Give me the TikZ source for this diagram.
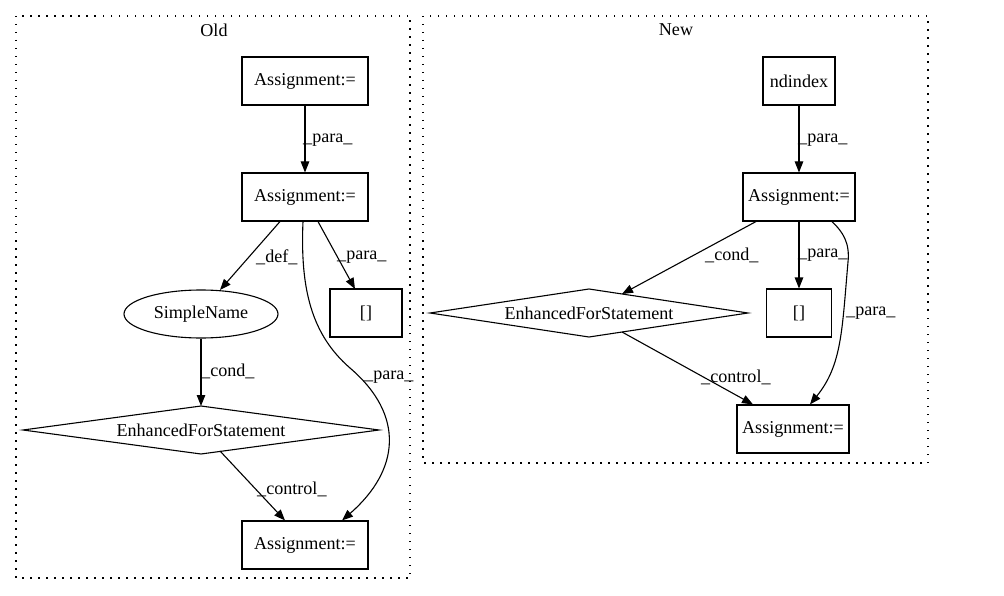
\documentclass[tikz,border=0pt]{standalone}
\usepackage{fontspec}
\setmainfont{Liberation Serif}
\usetikzlibrary{arrows.meta,shapes.geometric}
\begin{document}
\begin{tikzpicture}[x=1pt,y=-1pt,
  every node/.style={font=\fontsize{18.1}{20}\selectfont, inner sep=0pt},
  box/.style={draw, line width=1.1pt, minimum height=48pt},
  oval/.style={draw, ellipse, line width=1.1pt, minimum width=154pt, minimum height=48pt},
  shp/.style={line width=1.1pt},
  cluster/.style={line width=1.5pt, dash pattern=on 1.5pt off 6.5pt},
  edge/.style={line width=1.1pt, -{Triangle[length=11pt,width=8.5pt]}},
  lbl/.style={anchor=west}]
\useasboundingbox (0,0) rectangle (1004,596);
% clusters
\draw[cluster] (16,16) rectangle (410,578);
\node (oldt) at (214,30) {Old};
\draw[cluster] (423,16) rectangle (928,463);
\node (newt) at (676,30) {New};
% Old nodes
\node[box, minimum width=126pt] (a1) at (305,81) {Assignment:=};
\node[box, minimum width=126pt] (a2) at (305,197) {Assignment:=};
\node[oval] (sn) at (201,314) {SimpleName};
\node[box, minimum width=72pt] (b1) at (366,313) {[]};
\draw[shp] (23,430) -- (201,406) -- (379,430) -- (201,454) -- cycle;
\node (efs1) at (201,430) {EnhancedForStatement};
\coordinate (efs1n) at (201,406);
\coordinate (efs1s) at (220,451);
\node[box, minimum width=126pt] (a3) at (305,545) {Assignment:=};
% New nodes
\node[box, minimum width=72pt] (nd) at (799,81) {ndindex};
\node[box, minimum width=112pt] (a4) at (799,197) {Assignment:=};
\draw[shp] (430,313) -- (589,289) -- (748,313) -- (589,337) -- cycle;
\node (efs2) at (589,313) {EnhancedForStatement};
\coordinate (efs2n) at (622,294);
\coordinate (efs2s) at (622,332);
\node[box, minimum width=65pt] (b2) at (799,313) {[]};
\node[box, minimum width=112pt] (a5) at (793,429) {Assignment:=};
% Old edges
\draw[edge] (a1.south) -- (a2.north);
\node[lbl] (l1) at (303,140) {\_para\_};
\draw[edge] ([xshift=-25pt]a2.south) -- (220,290);
\node[lbl] (l2) at (256,257) {\_def\_};
\draw[edge] ([xshift=13pt]a2.south) -- (355,289);
\node[lbl] (l3) at (337,257) {\_para\_};
\draw[edge] ([xshift=-2pt]a2.south) .. controls (300,290) and (312,335) .. (350,368)
  .. controls (405,415) and (400,470) .. ([xshift=37pt]a3.north);
\node[lbl] (l4) at (364,377) {\_para\_};
\draw[edge] (sn.south) -- (efs1n);
\node[lbl] (l5) at (201,371) {\_cond\_};
\draw[edge] (efs1s) -- ([xshift=-20pt]a3.north);
\node[lbl] (l6) at (257,489) {\_control\_};
% New edges
\draw[edge] (nd.south) -- (a4.north);
\node[lbl] (l7) at (798,140) {\_para\_};
\draw[edge] ([xshift=-43pt]a4.south) -- (efs2n);
\node[lbl] (l8) at (705,255) {\_cond\_};
\draw[edge] (a4.south) -- (b2.north);
\node[lbl] (l9) at (798,255) {\_para\_};
\draw[edge] ([xshift=33pt]a4.south) .. controls (843,232) and (850,243) .. (848,262)
  .. controls (842,330) and (842,365) .. ([xshift=17pt]a5.north);
\node[lbl] (l10) at (846,313) {\_para\_};
\draw[edge] (efs2s) -- ([xshift=-40pt]a5.north);
\node[lbl] (l11) at (701,377) {\_control\_};
\end{tikzpicture}
\end{document}
